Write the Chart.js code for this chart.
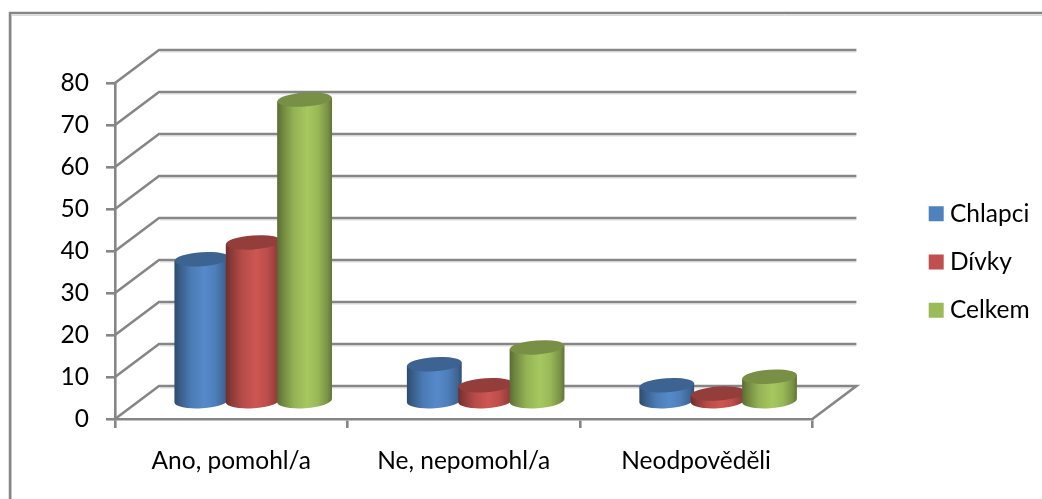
<!DOCTYPE html>
<html><head><meta charset="utf-8">
<style>html,body{margin:0;padding:0;background:#fff}#w{width:1042px;height:499px}</style>
<script src="https://cdn.jsdelivr.net/npm/chart.js@4"></script>
</head><body><div id="w"><canvas id="c" width="1042" height="499"></canvas></div>
<script>
const categories = ['Ano, pomohl/a', 'Ne, nepomohl/a', 'Neodpověděli'];
const chlapci = [34, 9, 4];
const divky = [38, 4, 2];
const celkem = [72, 13, 6];
const seriesNames = ['Chlapci', 'Dívky', 'Celkem'];
const seriesColors = ['#4f81bd', '#c0504d', '#9bbb59'];
const FONT = 'Lato';
const FONT_SIZE = 24.5;
const DEPTH = {x: 44, y: -33}, SHIFT = {x: 22, y: -17};
const LINE = '#868686';
const LW = 2.6;

function shade(hex, f) {
  const n = parseInt(hex.slice(1), 16);
  const c = [n >> 16, (n >> 8) & 255, n & 255].map(v => Math.min(255, Math.round(v * f)));
  return `rgb(${c[0]},${c[1]},${c[2]})`;
}
// every bar is drawn as a cylinder from the geometry the library computed
Chart.BarElement.prototype.draw = function (ctx) {
  const col = this.options.backgroundColor;
  const rx = this.width / 2, ry = 7, rot = -4 * Math.PI / 180;
  const dy = rx * Math.sin(-rot);
  const L = this.x - rx, R = this.x + rx;
  const g = ctx.createLinearGradient(L, 0, R, 0);
  [[0, .58], [.1, .72], [.3, .95], [.55, 1.07], [.75, .98], [.92, .78], [1, .62]]
    .forEach(s => g.addColorStop(s[0], shade(col, s[1])));
  ctx.save();
  ctx.fillStyle = g;
  ctx.beginPath();
  ctx.moveTo(L, this.y + dy);
  ctx.lineTo(L, this.base + dy);
  ctx.ellipse(this.x, this.base, rx, ry + .5, rot, Math.PI, 0, true);
  ctx.lineTo(R, this.y - dy);
  ctx.closePath();
  ctx.fill();
  ctx.fillStyle = shade(col, .77);
  ctx.beginPath();
  ctx.ellipse(this.x, this.y, rx, ry, rot, 0, Math.PI * 2);
  ctx.fill();
  ctx.restore();
};

const cylinders = {
  id: 'cylinders',
  afterLayout(chart) {
    const l = chart.legend;
    const w = l.width, h = l.height;
    l.left = 911; l.right = 911 + w;
    l.top = 262 - h / 2; l.bottom = l.top + h;
  },
  beforeDraw(chart) {
    const ctx = chart.ctx;
    ctx.save();
    ctx.lineCap = 'butt';
    ctx.strokeStyle = '#d9d9d9'; ctx.lineWidth = 1;
    ctx.beginPath(); ctx.moveTo(12, 15.5); ctx.lineTo(1042, 15.5); ctx.moveTo(11.5, 15); ctx.lineTo(11.5, 499); ctx.stroke();
    ctx.strokeStyle = LINE; ctx.lineWidth = 2.5;
    ctx.beginPath(); ctx.moveTo(10, 499); ctx.lineTo(10, 13); ctx.lineTo(1042, 13); ctx.stroke();
    ctx.restore();
  },
  beforeDatasetsDraw(chart) {
    const ctx = chart.ctx, y = chart.scales.y, x = chart.scales.x;
    const x0 = x.left, x1 = x.right;
    ctx.save();
    y.ticks.forEach(t => {
      const p = y.getPixelForValue(t.value);
      ctx.strokeStyle = '#dcdcdc'; ctx.lineWidth = 1;
      ctx.beginPath();
      ctx.moveTo(x0 + DEPTH.x + 1, p + DEPTH.y + 2);
      ctx.lineTo(x1 + DEPTH.x, p + DEPTH.y + 2);
      ctx.stroke();
      ctx.strokeStyle = LINE; ctx.lineWidth = LW;
      ctx.beginPath();
      ctx.moveTo(x0, p);
      ctx.lineTo(x0 + DEPTH.x, p + DEPTH.y);
      ctx.lineTo(x1 + DEPTH.x, p + DEPTH.y);
      if (t.value === 0) ctx.lineTo(x1, p);
      ctx.stroke();
    });
    ctx.restore();
  },
  beforeDatasetDraw() { return false; },
  afterDatasetsDraw(chart) {
    const ctx = chart.ctx;
    ctx.save();
    ctx.translate(SHIFT.x, SHIFT.y);
    // later series sit in front of the earlier ones
    chart.data.datasets.forEach((d, i) => chart.getDatasetMeta(i).data.forEach(el => el.draw(ctx)));
    ctx.restore();
  }
};

new Chart(document.getElementById('c'), {
  type: 'bar',
  plugins: [cylinders],
  data: {
    labels: categories,
    datasets: [chlapci, divky, celkem].map((v, i) => ({
      label: seriesNames[i], data: v, backgroundColor: seriesColors[i],
      categoryPercentage: .663, barPercentage: 1.068
    }))
  },
  options: {
    responsive: false, animation: false,
    layout: {padding: {left: 0, right: 101, top: 83, bottom: 0}},
    plugins: {
      tooltip: {enabled: false},
      legend: {
        position: 'right', align: 'center',
        labels: {
          color: '#000', font: {family: FONT, size: FONT_SIZE},
          usePointStyle: true, pointStyle: 'rect', boxWidth: 3, boxHeight: 15,
          padding: 23.7
        }
      }
    },
    scales: {
      x: {
        afterFit(s) { s.height = 80; },
        border: {color: LINE, width: LW},
        grid: {drawOnChartArea: false, color: LINE, tickColor: LINE, tickLength: 9, lineWidth: LW},
        ticks: {color: '#000', font: {family: FONT, size: FONT_SIZE}, padding: 18, maxRotation: 0}
      },
      y: {
        min: 0, max: 80,
        afterFit(s) { s.width = 115; },
        border: {color: LINE, width: LW},
        grid: {drawOnChartArea: false, color: LINE, tickColor: LINE, tickLength: 9, lineWidth: LW},
        ticks: {color: '#000', font: {family: FONT, size: FONT_SIZE}, padding: 17, stepSize: 10}
      }
    }
  }
});
</script></body></html>
